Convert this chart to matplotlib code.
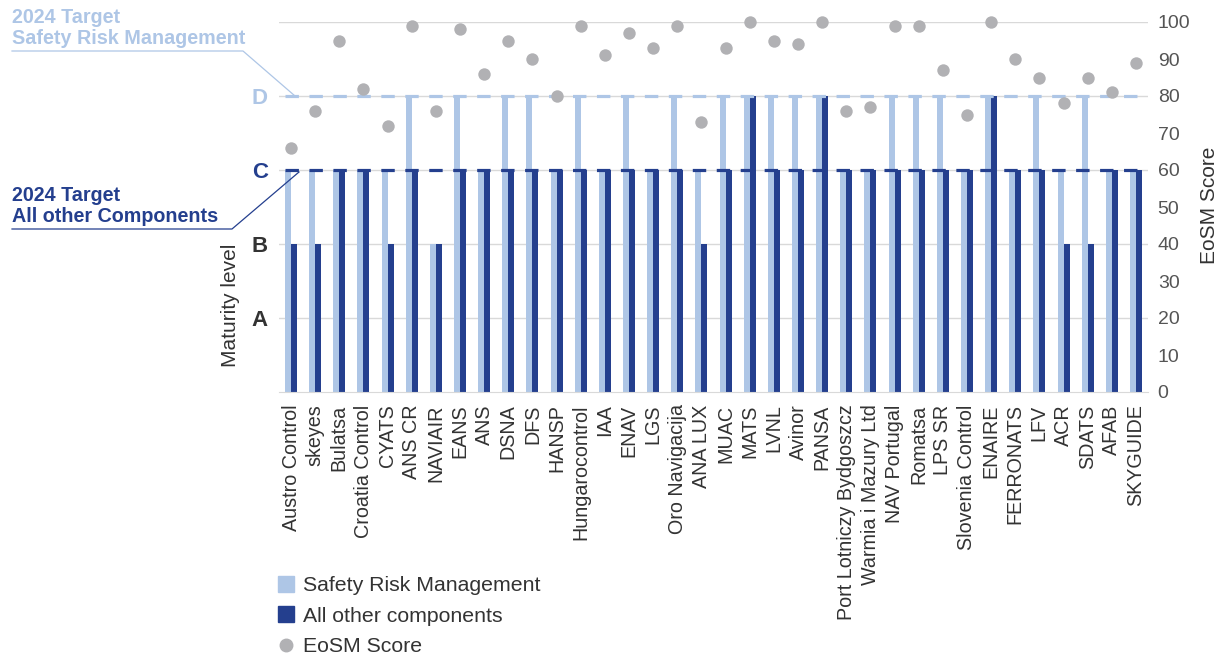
import numpy as np
import matplotlib
matplotlib.use("Agg")
import matplotlib.pyplot as plt
from matplotlib.lines import Line2D

plt.rcParams['font.family'] = ['Liberation Sans', 'DejaVu Sans']

providers = ["Austro Control", "skeyes", "Bulatsa", "Croatia Control", "CYATS", "ANS CR",
             "NAVIAIR", "EANS", "ANS", "DSNA", "DFS", "HANSP", "Hungarocontrol", "IAA",
             "ENAV", "LGS", "Oro Navigacija", "ANA LUX", "MUAC", "MATS", "LVNL", "Avinor",
             "PANSA", "Port Lotniczy Bydgoszcz", "Warmia i Mazury Ltd", "NAV Portugal",
             "Romatsa", "LPS SR", "Slovenia Control", "ENAIRE", "FERRONATS", "LFV", "ACR",
             "SDATS", "AFAB", "SKYGUIDE"]
srm_level = ["C", "C", "C", "C", "C", "D", "B", "D", "C", "D", "D", "C", "D", "C",
             "D", "C", "D", "C", "D", "D", "D", "D", "D", "C", "C", "D",
             "D", "D", "C", "D", "C", "D", "C", "D", "C", "C"]
other_level = ["B", "B", "C", "C", "B", "C", "B", "C", "C", "C", "C", "C", "C", "C",
               "C", "C", "C", "B", "C", "D", "C", "C", "D", "C", "C", "C",
               "C", "C", "C", "D", "C", "C", "B", "B", "C", "C"]
eosm_score = [66, 76, 95, 82, 72, 99, 76, 98, 86, 95, 90, 80, 99, 91,
              97, 93, 99, 73, 93, 100, 95, 94, 100, 76, 77, 99,
              99, 87, 75, 100, 90, 85, 78, 85, 81, 89]
level_labels = ["A", "B", "C", "D"]
level_positions = [20, 40, 60, 80]
score_ticks = list(range(0, 101, 10))
target_srm = "D"
target_other = "C"

lvl = dict(zip(level_labels, level_positions))
srm_vals = [lvl[v] for v in srm_level]
oth_vals = [lvl[v] for v in other_level]

LIGHT = "#aec6e6"
NAVY = "#243f8e"
GRAY = "#b1b1b4"
GRID = "#d9d9d9"
TXT = "#333333"

W, H = 1222, 655
fig = plt.figure(figsize=(W / 100, H / 100), dpi=100)
ax = fig.add_axes([279 / W, 1 - 392 / H, (1148 - 279) / W, (392 - 22) / H])
ax2 = ax.twinx()

x = np.arange(len(providers))
bw = 0.248
ax.bar(x - bw / 2, srm_vals, width=bw, color=LIGHT, zorder=2)
ax.bar(x + bw / 2, oth_vals, width=bw, color=NAVY, zorder=2)

ax.set_xlim(-0.5, len(providers) - 0.5)
ax.set_ylim(0, 100)
ax2.set_ylim(0, 100)

for g in [20, 40, 60, 80, 100]:
    ax.axhline(g, color=GRID, lw=1, zorder=1)

ax.plot([-0.25, len(providers) - 0.6], [lvl[target_srm]] * 2, color=LIGHT, lw=2.3,
        dashes=(4.2, 3.3), zorder=3, solid_capstyle='butt', dash_capstyle='butt')
ax.plot([-0.25, len(providers) - 0.6], [lvl[target_other]] * 2, color=NAVY, lw=2.3,
        dashes=(4.2, 3.3), zorder=3, solid_capstyle='butt', dash_capstyle='butt')

ax.scatter(x, eosm_score, s=80, color=GRAY, zorder=5, clip_on=False, linewidths=0)

for s in ["top", "left", "right"]:
    ax.spines[s].set_visible(False)
    ax2.spines[s].set_visible(False)
ax2.spines["bottom"].set_visible(False)
ax.spines["bottom"].set_color(GRID)

ax.set_xticks(x)
ax.set_xticklabels(providers, rotation=90, fontsize=14.2, color=TXT)
ax.tick_params(axis='x', length=0, pad=9)

ax.set_yticks(level_positions)
ax.set_yticklabels(level_labels, fontsize=16, fontweight='bold')
ax.tick_params(axis='y', length=0, pad=8)
lab_colors = {"A": TXT, "B": TXT, "C": NAVY, "D": LIGHT}
for t in ax.get_yticklabels():
    t.set_color(lab_colors[t.get_text()])
ax.set_ylabel("Maturity level", fontsize=15, color=TXT)
ax.yaxis.set_label_coords((240 - 279) / 869, (392 - 305) / 370)

ax2.set_yticks(score_ticks)
ax2.set_yticklabels([str(v) for v in score_ticks], fontsize=14, color="#555555")
ax2.tick_params(axis='y', length=0, pad=7)
ax2.set_ylabel("EoSM Score", fontsize=15, color=TXT)
ax2.yaxis.set_label_coords((1200 - 279) / 869, (392 - 205) / 370)

# annotations
def fx(px):
    return px / W

def fy(py):
    return 1 - py / H

fig.text(fx(12), fy(8), "2024 Target\nSafety Risk Management", fontsize=14.2, fontweight='bold',
         color=LIGHT, va='top', ha='left', linespacing=1.12)
fig.add_artist(Line2D([fx(12), fx(243), fx(295)], [fy(51), fy(51), fy(96)],
                      transform=fig.transFigure, color=LIGHT, lw=0.9))
fig.text(fx(12), fy(186), "2024 Target\nAll other Components", fontsize=14.2, fontweight='bold',
         color=NAVY, va='top', ha='left', linespacing=1.12)
fig.add_artist(Line2D([fx(12), fx(232), fx(299)], [fy(229), fy(229), fy(172)],
                      transform=fig.transFigure, color=NAVY, lw=0.9))

handles = [Line2D([], [], marker='s', linestyle='none', markersize=11, color=LIGHT),
           Line2D([], [], marker='s', linestyle='none', markersize=11, color=NAVY),
           Line2D([], [], marker='o', linestyle='none', markersize=9, color=GRAY)]
fig.legend(handles, ["Safety Risk Management", "All other components", "EoSM Score"],
           loc='upper left', bbox_to_anchor=(fx(277), fy(576)), frameon=False,
           fontsize=15.3, handlelength=0.8, handletextpad=0.42, labelspacing=0.55,
           borderpad=0, borderaxespad=0, labelcolor=TXT)

fig.savefig("out.png", dpi=100)
